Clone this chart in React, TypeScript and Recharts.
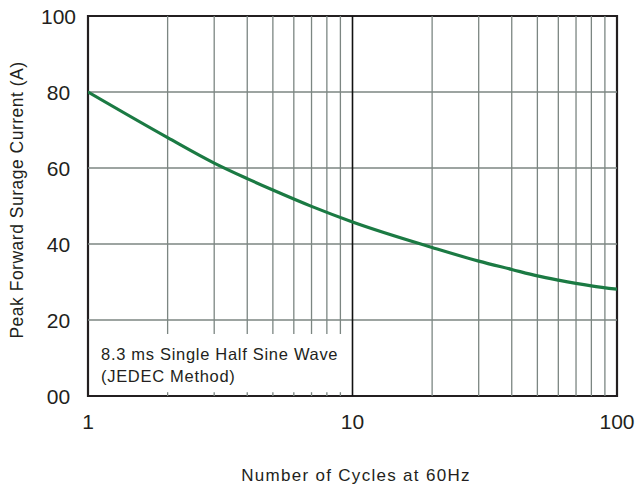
import React from "react";
import {
  LineChart,
  Line,
  XAxis,
  YAxis,
  ReferenceLine,
  ReferenceArea,
  Customized,
} from "recharts";

const cycles = [1, 2, 3, 4, 5, 7, 10, 20, 30, 40, 50, 60, 80, 100];
const surgeCurrent = [80, 68.0, 61.3, 57.2, 54.2, 49.9, 45.8, 39.1, 35.5, 33.3, 31.6, 30.5, 29.0, 28.1];
const xTicks = [1, 10, 100];
const yTicks = [0, 20, 40, 60, 80, 100];
const yTickLabels = ["00", "20", "40", "60", "80", "100"];
const minorFirstDecade = [2, 3, 4, 5, 6, 7, 8, 9];
const minorSecondDecade = [20, 30, 40, 50, 60, 70, 80, 90];
const hGrid = [20, 40, 60, 80];
const noteLines = ["8.3 ms Single Half Sine Wave", "(JEDEC Method)"];
const xTitle = "Number of Cycles at 60Hz";
const yTitle = "Peak Forward Surage Current (A)";

const data = cycles.map((c, i) => ({ c, v: surgeCurrent[i] }));

const FONT = "'Liberation Sans', Arial, sans-serif";
const GRID = "#7c8682";
const FRAME = "#231f20";

const YTick = (props: any) => {
  const { y, payload } = props;
  const idx = yTicks.indexOf(payload.value);
  return (
    <text x={58.5} y={y} dy="0.36em" textAnchor="middle" fontSize={21} fontFamily={FONT} fill="#231f20">
      {yTickLabels[idx]}
    </text>
  );
};

const XTick = (props: any) => {
  const { x, payload } = props;
  return (
    <text x={x} y={396} dy={33} textAnchor="middle" fontSize={21} fontFamily={FONT} fill="#231f20">
      {String(payload.value)}
    </text>
  );
};

const Texts = () => (
  <g fontFamily={FONT} fill="#231f20">
    <text x={101} y={360} fontSize={16.5} letterSpacing={0.7}>{noteLines[0]}</text>
    <text x={101} y={382} fontSize={16.5} letterSpacing={0.7}>{noteLines[1]}</text>
    <text x={356} y={481} fontSize={17} letterSpacing={1.3} textAnchor="middle">{xTitle}</text>
    <text
      x={0}
      y={0}
      fontSize={17.5}
      letterSpacing={0.5}
      textAnchor="middle"
      transform="translate(22.5,200) rotate(-90)"
    >
      {yTitle}
    </text>
  </g>
);

export default function App() {
  return (
    <div style={{ position: "absolute", left: 0, top: 0, width: 636, height: 486, background: "#fff" }}>
      <LineChart width={636} height={486} data={data} margin={{ top: 16, right: 19, left: 0, bottom: 0 }}>
        <XAxis
          dataKey="c"
          type="number"
          scale="log"
          domain={[1, 100]}
          ticks={xTicks}
          allowDataOverflow
          axisLine={false}
          tickLine={false}
          height={90}
          tick={<XTick />}
        />
        <YAxis
          type="number"
          domain={[0, 100]}
          ticks={yTicks}
          axisLine={false}
          tickLine={false}
          width={88}
          tick={<YTick />}
        />
        {hGrid.map((h) => (
          <ReferenceLine key={"h" + h} y={h} stroke={GRID} strokeWidth={1.3} />
        ))}
        {minorFirstDecade.map((m) => (
          <ReferenceLine
            key={"a" + m}
            segment={[{ x: m, y: 16.3 }, { x: m, y: 100 }]}
            stroke={GRID}
            strokeWidth={1.3}
          />
        ))}
        {minorFirstDecade.map((m) => (
          <ReferenceLine
            key={"t" + m}
            segment={[{ x: m, y: 0 }, { x: m, y: 1 }]}
            stroke={GRID}
            strokeWidth={1.3}
          />
        ))}
        {minorSecondDecade.map((m) => (
          <ReferenceLine key={"b" + m} x={m} stroke={GRID} strokeWidth={1.3} />
        ))}
        <ReferenceLine x={10} stroke="#111" strokeWidth={1.6} />
        <Line
          type="monotone"
          dataKey="v"
          stroke="#1b7a43"
          strokeWidth={3.2}
          dot={false}
          isAnimationActive={false}
        />
        <ReferenceArea x1={1} x2={100} y1={0} y2={100} fill="none" stroke={FRAME} strokeWidth={2.2} />
        <Customized component={Texts} />
      </LineChart>
    </div>
  );
}
